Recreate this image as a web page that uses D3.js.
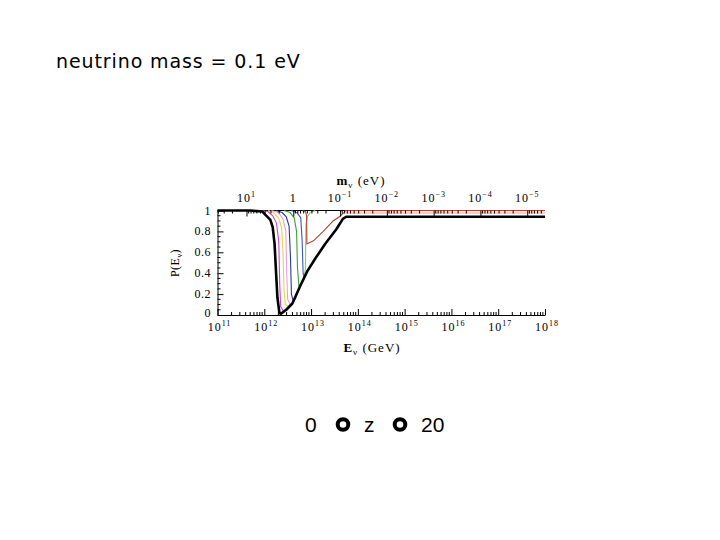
<!DOCTYPE html>
<html><head><meta charset="utf-8">
<script src="https://cdn.jsdelivr.net/npm/d3@7"></script>
<style>body{margin:0;background:#fff}svg{display:block}</style>
</head><body>
<svg id="c" width="720" height="540"></svg>
<script>
// ---- data ----
const title = "neutrino mass = 0.1 eV";
const energyExps = [11, 12, 13, 14, 15, 16, 17, 18];          // bottom axis decades, E in GeV
const massExps = [1, 0, -1, -2, -3, -4, -5];                  // top axis decades, m in eV
const resonanceLogE = 12.62;                                 // log10 E (GeV) at m = 1 eV
const pTicks = [0, 0.2, 0.4, 0.6, 0.8, 1];
const pTickLabels = ["0", "0.2", "0.4", "0.6", "0.8", "1"];

// envelope (thick black)
const envLogE = [11.0, 11.70, 11.96, 12.02, 12.13, 12.18, 12.22, 12.25, 12.28, 12.32, 12.35, 12.47, 12.60, 12.77, 12.92, 13.09, 13.30, 13.54, 13.68, 13.75, 18.0];
const envP    = [1, 1, 0.99, 0.96, 0.91, 0.84, 0.68, 0.42, 0.17, 0.03, 0.01, 0.05, 0.11, 0.28, 0.42, 0.54, 0.68, 0.82, 0.92, 0.94, 0.94];

// coloured curves
const magentaLogE = [11.95, 12.08, 12.18, 12.26, 12.31, 12.33, 12.35, 12.40, 12.47];
const magentaP    = [1, 0.99, 0.95, 0.88, 0.70, 0.30, 0.08, 0.04, 0.06];
const yellowLogE  = [12.08, 12.20, 12.30, 12.37, 12.40, 12.42, 12.45, 12.53];
const yellowP     = [1, 0.98, 0.93, 0.84, 0.60, 0.25, 0.10, 0.08];
const pinkLogE    = [12.15, 12.30, 12.40, 12.46, 12.48, 12.50, 12.56];
const pinkP       = [1, 0.98, 0.92, 0.80, 0.40, 0.15, 0.09];
const navyLogE    = [12.25, 12.38, 12.47, 12.53, 12.56, 12.58, 12.62, 12.68];
const navyP       = [1, 0.98, 0.94, 0.85, 0.55, 0.20, 0.13, 0.17];
const greenLogE   = [12.42, 12.55, 12.64, 12.69, 12.71, 12.74, 12.79];
const greenP      = [1, 0.98, 0.93, 0.80, 0.45, 0.28, 0.30];
const blueLogE    = [12.58, 12.70, 12.78, 12.81, 12.83, 12.85];
const blueP       = [1, 0.98, 0.93, 0.70, 0.40, 0.36];
const green2LogE  = [12.86, 12.88, 12.89, 12.92, 12.98, 13.09];
const green2P     = [0.38, 0.45, 0.86, 0.94, 0.98, 1];
const redLogE     = [12.82, 12.88, 12.905, 12.91, 13.05, 13.26, 13.47, 13.62, 13.70, 13.74, 18.0];
const redP        = [1, 0.99, 0.95, 0.68, 0.71, 0.80, 0.90, 0.945, 0.98, 1, 1];
const bandLogE    = [13.74, 18.0];
const bandP       = [0.978, 0.978];

// ---- drawing ----
const svg = d3.select("#c");
svg.append("rect").attr("width", 720).attr("height", 540).attr("fill", "#fff");

const L = 217.5, R = 545, T = 210.5, B = 315;
const x = d3.scaleLog().domain([1e11, 1e18]).range([L, R]);
const y = d3.scaleLinear().domain([0, 1]).range([B, T]);
const mTop = d3.scaleLog()
  .domain([Math.pow(10, resonanceLogE - 11), Math.pow(10, resonanceLogE - 18)])
  .range([L, R]);

const serif = "'Liberation Serif', 'DejaVu Serif', serif";

// title
svg.append("text").attr("x", 56).attr("y", 68)
  .attr("font-family", "'DejaVu Sans', sans-serif").attr("font-size", 19)
  .attr("letter-spacing", 0.9).attr("fill", "#000").text(title);

// curves
const line = d3.line().x(d => x(Math.pow(10, d[0]))).y(d => y(d[1]));
const zip = (a, b) => a.map((v, i) => [v, b[i]]);
const series = [
  {e: bandLogE, p: bandP, c: "#f4d0d2", w: 2.5},
  {e: magentaLogE, p: magentaP, c: "#c844c8", w: 1.1},
  {e: yellowLogE, p: yellowP, c: "#e2d64a", w: 1.1},
  {e: pinkLogE, p: pinkP, c: "#eaa0dc", w: 1.1},
  {e: navyLogE, p: navyP, c: "#283a8c", w: 1.1},
  {e: greenLogE, p: greenP, c: "#38a238", w: 1.1},
  {e: blueLogE, p: blueP, c: "#3c5ab4", w: 1.1},
  {e: green2LogE, p: green2P, c: "#7ccc7c", w: 1.1},
  {e: redLogE, p: redP, c: "#b24232", w: 1.1}
];

// top frame line
svg.append("line").attr("x1", L).attr("x2", R).attr("y1", T).attr("y2", T)
  .attr("stroke", "#000").attr("stroke-width", 1);

series.forEach(s => {
  svg.append("path").datum(zip(s.e, s.p)).attr("d", line)
    .attr("fill", "none").attr("stroke", s.c).attr("stroke-width", s.w);
});
svg.append("path").datum(zip(envLogE, envP)).attr("d", line)
  .attr("fill", "none").attr("stroke", "#000").attr("stroke-width", 2.6)
  .attr("stroke-linejoin", "round");

// bottom axis
const gB = svg.append("g").attr("transform", `translate(0,${B})`)
  .call(d3.axisBottom(x).tickValues(energyExps.map(e => Math.pow(10, e)))
    .tickSize(-6).tickSizeOuter(0).tickFormat(""));
const minorE = [];
energyExps.slice(0, -1).forEach(e => { for (let k = 2; k <= 9; k++) minorE.push(k * Math.pow(10, e)); });
gB.selectAll("line.minor").data(minorE).enter().append("line").attr("class", "minor")
  .attr("x1", d => x(d)).attr("x2", d => x(d)).attr("y1", 0).attr("y2", -3)
  .attr("stroke", "#000");

// left axis
const gL = svg.append("g").attr("transform", `translate(${L},0)`)
  .call(d3.axisLeft(y).tickValues(pTicks).tickSize(-6).tickSizeOuter(0).tickFormat(""));
const minorP = d3.range(0, 1.0001, 0.05).filter(v => Math.abs(v * 5 - Math.round(v * 5)) > 1e-6);
gL.selectAll("line.minor").data(minorP).enter().append("line").attr("class", "minor")
  .attr("x1", 0).attr("x2", 3).attr("y1", d => y(d)).attr("y2", d => y(d)).attr("stroke", "#000");

// top axis
const gT = svg.append("g").attr("transform", `translate(0,${T})`)
  .call(d3.axisTop(mTop).tickValues(massExps.map(e => Math.pow(10, e)))
    .tickSize(-6).tickSizeOuter(0).tickFormat(""));
gT.select(".domain").remove();
const minorM = [];
for (let e = -6; e <= 1; e++) for (let k = 2; k <= 9; k++) {
  const v = k * Math.pow(10, e);
  const px = mTop(v);
  if (px > L && px < R) minorM.push(v);
}
gT.selectAll("line.minor").data(minorM).enter().append("line").attr("class", "minor")
  .attr("x1", d => mTop(d)).attr("x2", d => mTop(d)).attr("y1", 0).attr("y2", 3)
  .attr("stroke", "#000");

svg.selectAll(".domain").attr("stroke", "#000");

// tick labels
function powerLabel(g, px, py, base, exp) {
  const t = g.append("text").attr("x", px).attr("y", py).attr("text-anchor", "middle")
    .attr("font-family", serif).attr("font-size", 12).attr("letter-spacing", 1).attr("fill", "#000");
  t.append("tspan").text(base);
  if (exp !== null) t.append("tspan").attr("dy", -5).attr("font-size", 8).text(exp);
}
energyExps.forEach(e => powerLabel(svg, x(Math.pow(10, e)) + 2, 331, "10", String(e)));
massExps.forEach(e => {
  const px = mTop(Math.pow(10, e));
  if (e === 0) powerLabel(svg, px, 202, "1", null);
  else powerLabel(svg, px, 202, "10", e === 1 ? "1" : "\u2212" + String(-e));
});
pTicks.forEach((p, i) => {
  svg.append("text").attr("x", 211).attr("y", y(p) + (p === 0 ? 2 : 4)).attr("text-anchor", "end")
    .attr("font-family", serif).attr("font-size", 12).attr("letter-spacing", 0.5)
    .attr("fill", "#000").text(pTickLabels[i]);
});

// axis titles
const tB = svg.append("text").attr("x", 372).attr("y", 352).attr("text-anchor", "middle")
  .attr("font-family", serif).attr("font-size", 13).attr("letter-spacing", 1).attr("fill", "#000");
tB.append("tspan").attr("font-weight", "bold").text("E");
tB.append("tspan").attr("dy", 3).attr("font-size", 9).text("\u03bd");
tB.append("tspan").attr("dy", -3).text(" (GeV)");

const tT = svg.append("text").attr("x", 361).attr("y", 185).attr("text-anchor", "middle")
  .attr("font-family", serif).attr("font-size", 13).attr("letter-spacing", 1).attr("fill", "#000");
tT.append("tspan").attr("font-weight", "bold").text("m");
tT.append("tspan").attr("dy", 3).attr("font-size", 9).text("\u03bd");
tT.append("tspan").attr("dy", -3).text(" (eV)");

const tY = svg.append("text").attr("transform", "translate(179,263) rotate(-90)").attr("text-anchor", "middle")
  .attr("font-family", serif).attr("font-size", 12).attr("letter-spacing", 0.5).attr("fill", "#000");
tY.append("tspan").text("P(E");
tY.append("tspan").attr("dy", 3).attr("font-size", 8).text("\u03bd");
tY.append("tspan").attr("dy", -3).text(")");

// bottom caption: 0 ⚬ z ⚬ 20
const capY = 432;
const cap = svg.append("g").attr("font-family", "'Liberation Sans', Arial, sans-serif")
  .attr("font-size", 21).attr("fill", "#000");
cap.append("text").attr("x", 305).attr("y", capY).text("0");
cap.append("text").attr("x", 364).attr("y", capY).text("z");
cap.append("text").attr("x", 421).attr("y", capY).text("20");
[343, 400].forEach(cx => {
  svg.append("circle").attr("cx", cx).attr("cy", 424.5).attr("r", 5.3)
    .attr("fill", "none").attr("stroke", "#000").attr("stroke-width", 4);
});
</script>
</body></html>
